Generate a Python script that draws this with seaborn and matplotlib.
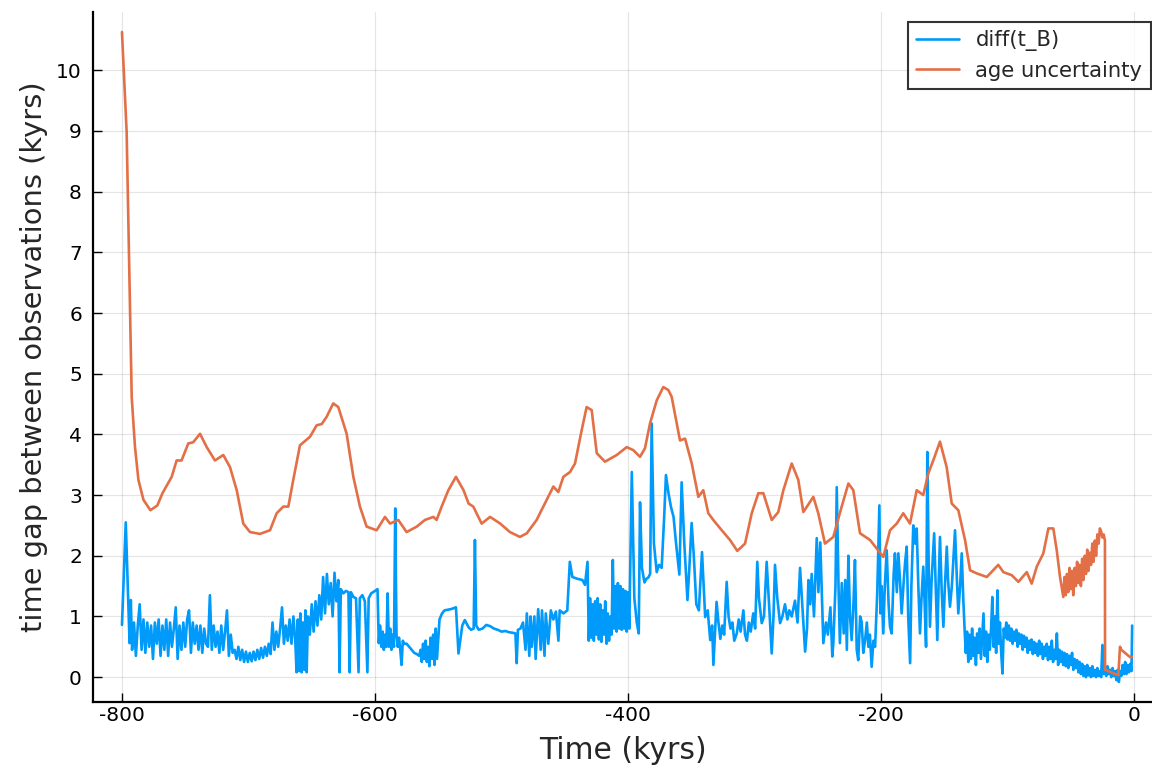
import matplotlib
matplotlib.use("Agg")
import matplotlib.pyplot as plt
import seaborn as sns

# Sampling-interval series: time of each sample (kyrs) and the gap to the next one
blue_time = [
    -800, -797, -794, -793, -792,
    -790.5, -789, -787.5, -786, -784.5, -783, -781.5, -780, -778.5, -777,
    -775.5, -774, -772.5, -771, -769.5, -768, -766.5, -765, -763.5, -762,
    -760.5, -759, -757.5, -756, -754.5, -753, -751.5, -750, -748.5, -747,
    -745.5, -744, -742.5, -741, -739.5, -738, -736.5, -735, -733.5, -732,
    -730.5, -729, -727.5, -726, -724.5, -723, -721.5, -720, -718.5, -717,
    -715.5, -714, -712.5,
    -711, -709.5, -708, -706.5, -705, -703.5, -702, -700.5, -699, -697.5,
    -696, -694.5, -693, -691.5, -690, -688.5, -687, -685.5, -684, -682.5,
    -681, -679.5, -678, -676.5, -675, -673.5, -672, -670.5, -669, -667.5,
    -666, -664.5, -663, -662, -661, -660, -659, -658, -657, -656,
    -655, -654, -653, -651.5, -650, -648.5, -647, -645.5, -644, -642.5,
    -641, -639.5, -638, -636.5, -635, -633.5, -632, -630.5, -629, -628,
    -627, -625, -623, -621, -620, -619, -617, -615, -613, -612,
    -610, -608, -606, -605, -603, -600, -598,
    -597, -596, -595, -594, -593, -592, -591, -590, -589, -588,
    -587, -586, -585, -584, -583, -582, -581, -580, -579, -578,
    -577, -575, -573, -571, -569, -567, -565, -564, -563, -562,
    -561, -560, -559, -558, -557, -556, -555, -554, -553, -552,
    -551, -549, -547, -545, -540, -536, -534, -531, -529, -526,
    -524, -522, -521, -520, -518, -515, -512, -509, -506, -503,
    -500, -497, -494, -491, -489, -488, -487, -485, -483, -481,
    -480, -478, -477, -476, -474, -473, -471, -469, -468, -466,
    -465, -463, -461, -459, -457, -455, -454, -451, -448, -446,
    -444, -440, -436, -434, -432, -431,
    -430, -429, -428, -427, -426, -425, -424, -423, -422, -421,
    -420, -419, -418, -417, -416, -415, -414, -413, -412, -411,
    -410, -409, -408, -407, -406, -405, -404, -403, -402, -401,
    -400, -399,
    -397, -395, -393, -391.5, -390.5, -389, -387, -385.5, -384, -382.5,
    -381.3, -379.5, -377.3, -375.5, -373.4, -371.5, -370, -368, -366, -364,
    -362, -359.4, -357.6, -355.5, -353, -351.5, -349.7, -348, -346, -344,
    -341.5, -339, -337, -335, -333.5, -332.5, -330, -328.5, -327, -325.5,
    -324, -322, -320.5, -319, -317.5, -316, -314, -312.5, -311, -308.8,
    -307.5, -306, -304.5, -303, -301, -299.5, -297.8, -296.5, -294.3, -292.5,
    -290.4, -288.5, -286.4, -285, -283.8, -282, -279.8, -278, -275.9, -274,
    -272.5, -270.6, -268, -266, -264, -262, -260, -258.5, -257.4, -256,
    -254.8, -253, -250.8, -249.5, -248, -246.5, -245.6, -243.5, -242, -240,
    -238.5, -237.7, -236, -235, -233.5,
    -232.5, -231, -229.5, -228.3, -227, -225.8, -224.5, -223.2, -221.8, -220.6,
    -219.2, -218, -216.5, -215.3, -214, -212.6, -211.2, -210, -208.8, -207.4,
    -206, -204.7, -203, -201.3, -200.5, -199.5, -198.2, -197, -195.5, -194,
    -192.9, -191.6, -190, -189, -187.5, -186.3, -185, -183.7, -182, -181,
    -179.7, -178.5, -177, -176, -174.5, -173, -171.8, -170.5, -169.2, -168,
    -166.6, -165.5, -164.4, -163.4, -162.3, -161.3, -160, -158, -156.5, -155.5,
    -154.5, -153.4, -152, -150.7, -149.5, -148, -147, -145.5, -144, -141.5,
    -140, -138.9, -137.5, -136.2, -135,
    -134, -133, -132, -131, -130, -129, -128, -127, -126, -125,
    -124, -123, -122, -121, -120, -119, -118, -117, -116, -115,
    -114, -113, -112, -111, -110, -109, -108, -107, -106, -105,
    -104, -103, -102, -101, -100, -99, -98, -97, -96, -95,
    -94, -93, -92, -91, -90, -89, -88, -87, -86, -85,
    -84, -83, -82, -81, -80, -79, -78, -77, -76, -75,
    -74, -73, -72, -71, -70, -69, -68, -67, -66, -65,
    -64, -63, -62, -61, -60, -59, -58, -57, -56, -55,
    -54, -53, -52, -51, -50, -49, -48, -47, -46, -45,
    -44, -43, -42, -41, -40, -39, -38, -37, -36, -35,
    -34, -33, -32, -31, -30, -29, -28, -27, -26, -25,
    -24, -23, -22, -21, -20, -19, -18, -17, -16, -15,
    -14, -13, -12, -11, -10, -9, -8, -7, -6, -5,
    -4, -3, -2, -1.5,
]
blue_gap = [
    0.86, 2.55, 0.56, 1.27, 0.45,
    0.9, 0.35, 0.85, 1.2, 0.45, 0.95, 0.4, 0.9, 0.5, 0.85,
    0.3, 0.9, 0.55, 0.95, 0.35, 0.85, 0.45, 0.95, 0.35, 0.9,
    0.5, 0.8, 1.15, 0.3, 0.85, 0.45, 0.9, 0.5, 0.95, 1.1,
    0.4, 0.9, 0.55, 0.85, 0.45, 0.85, 0.4, 0.8, 0.55, 0.5,
    1.35, 0.45, 0.85, 0.5, 0.75, 0.4, 0.85, 0.45, 0.75, 1.1,
    0.35, 0.7, 0.4,
    0.45, 0.3, 0.5, 0.28, 0.45, 0.25, 0.42, 0.25, 0.4, 0.26,
    0.42, 0.28, 0.45, 0.3, 0.48, 0.32, 0.5, 0.35, 0.55, 0.38,
    0.9, 0.45, 0.75, 0.5, 0.8, 1.15, 0.55, 0.85, 0.6, 0.95,
    0.55, 1.0, 0.6, 0.08, 0.95, 0.1, 1.05, 0.08, 0.9, 0.12,
    1.1, 0.08, 1.0, 0.7, 1.2, 0.75, 1.25, 0.85, 1.35, 0.95,
    1.65, 1.05, 1.7, 1.2, 1.55, 1.0, 1.72, 1.25, 1.6, 0.08,
    1.45, 1.38, 1.42, 1.4, 0.08, 1.4, 1.32, 1.3, 0.08, 1.3,
    1.35, 1.25, 0.08, 1.3, 1.38, 1.42, 1.45,
    0.56, 0.85, 0.5, 0.75, 0.45, 0.7, 0.5, 1.38, 0.5, 0.8,
    0.45, 0.7, 0.5, 2.78, 0.7, 0.5, 0.65, 0.45, 0.2, 0.6,
    0.55, 0.55, 0.5, 0.45, 0.4, 0.38, 0.35, 0.45, 0.25, 0.55,
    0.3, 0.6, 0.25, 0.5, 0.18, 0.65, 0.3, 0.7, 0.2, 0.8,
    0.3, 0.95, 1.05, 1.1, 1.12, 1.15, 0.39, 0.85, 0.94, 0.82,
    0.78, 0.8, 2.26, 0.85, 0.78, 0.8, 0.86, 0.84, 0.8, 0.78,
    0.75, 0.76, 0.74, 0.73, 0.72, 0.23, 0.78, 0.8, 0.9, 0.45,
    1.05, 0.35, 1.0, 0.5, 1.0, 0.3, 1.12, 0.45, 1.1, 0.35,
    1.05, 0.55, 1.1, 0.95, 1.08, 0.6, 1.1, 1.05, 1.1, 1.9,
    1.65, 1.62, 1.6, 1.52, 1.9, 0.6,
    1.3, 0.65, 1.2, 0.6, 1.25, 0.7, 1.3, 0.62, 1.2, 0.58,
    1.1, 0.7, 1.25, 0.55, 1.05, 0.6, 1.0, 0.7, 1.93, 0.8,
    1.5, 0.75, 1.55, 0.8, 1.5, 0.78, 1.45, 0.8, 1.42, 0.75,
    1.4, 0.8,
    3.38, 1.3, 0.89, 0.72, 2.88, 1.8, 1.56, 1.62, 1.64, 1.7,
    4.18, 2.2, 1.73, 1.85, 1.8, 2.6, 3.33, 3.03, 2.8, 2.64,
    2.2, 1.69, 3.21, 2.2, 1.27, 1.8, 2.54, 2.0, 1.2, 1.1,
    2.06, 0.99, 1.1, 0.61, 0.85, 0.2, 1.24, 0.9, 0.63, 0.85,
    0.7, 1.57, 1.0, 0.8, 0.9, 0.6, 0.72, 0.95, 0.75, 1.1,
    0.7, 0.6, 0.9, 0.75, 1.05, 0.8, 1.9, 1.3, 0.89, 1.0,
    1.9, 1.2, 0.39, 1.0, 1.85, 1.3, 0.89, 1.0, 1.2, 0.95,
    1.1, 1.0, 1.26, 0.9, 1.8, 1.1, 0.42, 0.8, 1.6, 1.2,
    1.7, 1.0, 2.29, 1.4, 2.22, 1.2, 0.56, 0.9, 0.7, 1.15,
    0.34, 0.56, 1.5, 3.13, 1.4,
    0.56, 1.55, 0.72, 1.6, 0.45, 2.0, 1.0, 0.61, 1.2, 1.93,
    0.45, 0.28, 1.0, 0.91, 0.4, 0.61, 0.9, 0.5, 0.7, 0.17,
    0.6, 0.5, 1.38, 2.83, 1.05, 1.5, 0.72, 1.5, 2.09, 1.2,
    0.83, 0.72, 1.7, 2.04, 1.4, 2.04, 1.6, 1.05, 1.6, 1.88,
    2.15, 1.0, 0.23, 1.5, 2.5, 2.2, 2.45, 1.5, 0.72, 1.3,
    1.82, 1.2, 0.5, 3.71, 1.8, 0.83, 1.6, 2.37, 1.3, 0.61,
    1.5, 2.31, 1.4, 0.83, 1.5, 2.15, 1.6, 1.16, 1.5, 2.42,
    1.6, 1.05, 1.5, 2.04, 1.3,
    0.82, 0.4, 0.75, 0.25, 0.7, 0.3, 0.8, 0.35, 0.65, 0.2,
    0.72, 0.4, 0.8, 0.3, 0.68, 1.05, 0.35, 0.75, 0.25, 0.7,
    0.45, 0.8, 1.32, 0.5, 1.0, 0.4, 1.43, 0.55, 0.9, 0.4,
    0.06, 0.8, 0.65, 0.9, 0.62, 0.85, 0.6, 0.8, 0.55, 0.75,
    0.6, 0.78, 0.5, 0.72, 0.55, 0.7, 0.45, 0.68, 0.5, 0.65,
    0.4, 0.6, 0.45, 0.62, 0.38, 0.58, 0.4, 0.55, 0.35, 0.6,
    0.38, 0.55, 0.3, 0.5, 0.35, 0.55, 0.28, 0.5, 0.3, 0.6,
    0.25, 0.45, 0.3, 0.72, 0.2, 0.45, 0.25, 0.42, 0.2, 0.4,
    0.18, 0.38, 0.15, 0.35, 0.2, 0.4, 0.12, 0.3, 0.15, 0.28,
    0.08, 0.25, 0.05, 0.22, 0.02, 0.18, 0.0, 0.2, 0.03, 0.15,
    0.0, 0.18, 0.02, 0.12, 0.0, 0.15, 0.02, 0.1, 0.0, 0.53,
    0.05, 0.15, 0.02, 0.18, 0.05, 0.12, 0.0, 0.15, 0.02, 0.1,
    -0.05, 0.12, -0.08, 0.1, 0.02, 0.2, 0.05, 0.25, 0.05, 0.2,
    0.08, 0.22, 0.1, 0.85,
]

# Age-model uncertainty (kyrs) along the same time axis
orange_time = [
    -800, -796.3, -792.3, -789.7, -787, -783, -777.5, -772, -768, -760.7,
    -756.8, -752.9, -747.6, -743.7, -738.3, -733, -726.5, -719.9, -714.6, -709.3,
    -704.1, -698.8, -690.9, -683, -677.7, -672.5, -668.5, -664.6, -659.3, -651.4,
    -646.1, -642.1, -638.2, -633, -629, -622.4, -617.1, -611.9, -606.6, -598.7,
    -592.1, -588.1, -581.6, -575, -567, -560.5, -553.9, -551.3, -547.3, -542,
    -536, -530, -526, -522.3, -515.7, -509, -501, -493.3, -485.4, -480,
    -472.2, -469.6, -464.3, -459, -455.1, -451.1, -445.8, -441.9, -436.6, -432.7,
    -428.7, -424.7, -418.2, -408.9, -401, -395.8, -390.5, -386.6, -382.6, -377.3,
    -372.1, -368.1, -365.5, -358.9, -354.9, -349.6, -344.4, -340.5, -336.5, -332.6,
    -325.9, -319.4, -313.6, -307.5, -302.2, -297, -293, -286.4, -281.2, -277.2,
    -270.6, -265.4, -261.4, -253.5, -249.6, -244.3, -237.7, -231.1, -225.8, -221.9,
    -216.6, -208.7, -198.2, -192.9, -187.6, -182.4, -177.1, -171.8, -166.6, -162.6,
    -158.7, -153.4, -148.1, -144.1, -138.9, -133.6, -129.6, -124.4, -116.4, -107.3,
    -103.3, -96.7, -91.4, -84.8, -80.9, -76.9, -71.7, -67.7, -63.8, -61.1,
    -58.5, -55.9,
    -55, -54, -53, -52, -51, -50, -49, -48, -47, -46,
    -45, -44, -43, -42, -41, -40, -39, -38, -37, -36,
    -35, -34, -33, -32, -31, -30, -29, -28, -27, -26,
    -25, -24, -23,
    -22.9, -12.4, -11.1, -10, -3.2, -1.6,
]
orange_unc = [
    10.63, 8.98, 4.61, 3.79, 3.25, 2.92, 2.75, 2.83, 3.03, 3.3,
    3.57, 3.57, 3.85, 3.87, 4.01, 3.79, 3.57, 3.66, 3.46, 3.08,
    2.53, 2.39, 2.36, 2.42, 2.7, 2.81, 2.81, 3.25, 3.82, 3.96,
    4.15, 4.17, 4.29, 4.51, 4.45, 4.01, 3.3, 2.81, 2.48, 2.42,
    2.64, 2.53, 2.59, 2.39, 2.48, 2.59, 2.64, 2.59, 2.81, 3.08,
    3.3, 3.08, 2.86, 2.81, 2.53, 2.64, 2.53, 2.39, 2.31, 2.37,
    2.59, 2.7, 2.92, 3.14, 3.05, 3.3, 3.38, 3.52, 4.07, 4.45,
    4.4, 3.69, 3.55, 3.66, 3.79, 3.74, 3.63, 3.77, 4.18, 4.56,
    4.78, 4.73, 4.62, 3.9, 3.93, 3.52, 2.97, 3.08, 2.7, 2.59,
    2.42, 2.26, 2.08, 2.2, 2.7, 3.03, 3.03, 2.59, 2.72, 3.08,
    3.52, 3.25, 2.72, 2.97, 2.7, 2.2, 2.31, 2.81, 3.19, 3.08,
    2.37, 2.26, 1.98, 2.42, 2.53, 2.7, 2.53, 3.08, 3.0, 3.36,
    3.57, 3.88, 3.46, 2.86, 2.75, 2.26, 1.76, 1.71, 1.65, 1.85,
    1.73, 1.68, 1.57, 1.73, 1.54, 1.82, 2.04, 2.45, 2.45, 2.09,
    1.65, 1.32,
    1.65, 1.35, 1.7, 1.4, 1.8, 1.45, 1.75, 1.35, 1.8, 1.5,
    1.9, 1.55, 1.85, 1.5, 1.95, 1.6, 2.0, 1.7, 2.1, 1.75,
    2.05, 1.85, 2.2, 1.9, 2.25, 2.0, 2.35, 2.2, 2.45, 2.4,
    2.3, 2.35, 2.25,
    0.12, 0.03, 0.5, 0.45, 0.33, 0.33,
]

x_ticks = [-800, -600, -400, -200, 0]
y_ticks = list(range(0, 11))

BLUE = "#009AFA"
ORANGE = "#E36F47"

sns.set_theme(style="white")
plt.rcParams["font.family"] = ["DejaVu Sans"]
plt.rcParams["axes.unicode_minus"] = False

fig = plt.figure(figsize=(11.52, 7.68), dpi=100)
ax = fig.add_axes([93 / 1152, 66 / 768, 1059 / 1152, 690 / 768])

sns.lineplot(x=blue_time, y=blue_gap, ax=ax, color=BLUE, linewidth=1.9,
             sort=False, estimator=None, label="diff(t_B)")
sns.lineplot(x=orange_time, y=orange_unc, ax=ax, color=ORANGE, linewidth=1.9,
             sort=False, estimator=None, label="age uncertainty")

ax.set_xlim(-822.9, 14.2)
ax.set_ylim(-0.41, 10.96)
ax.set_xticks(x_ticks)
ax.set_yticks(y_ticks)

ax.grid(True, color="black", alpha=0.1, linewidth=0.9)
for side in ("top", "right"):
    ax.spines[side].set_visible(False)
for side in ("left", "bottom"):
    ax.spines[side].set_color("black")
    ax.spines[side].set_linewidth(1.6)

ax.tick_params(axis="both", direction="in", length=6.5, width=1.0,
               colors="black", labelsize=14.5, left=True, bottom=True)
ax.tick_params(axis="x", pad=3)
ax.tick_params(axis="y", pad=8)

ax.set_xlabel("Time (kyrs)", fontsize=21.5, labelpad=8)
ax.set_ylabel("time gap between observations (kyrs)", fontsize=20.8, labelpad=6)

leg = ax.legend(loc="upper right", bbox_to_anchor=(0.999, 0.986),
                borderaxespad=0, fontsize=15.2, frameon=True, fancybox=False,
                handlelength=2.0, handletextpad=0.8, borderpad=0.4,
                labelspacing=0.45)
leg.get_frame().set_edgecolor("black")
leg.get_frame().set_linewidth(1.5)
for line in leg.get_lines():
    line.set_linewidth(1.9)

fig.savefig("out.png", dpi=100)
